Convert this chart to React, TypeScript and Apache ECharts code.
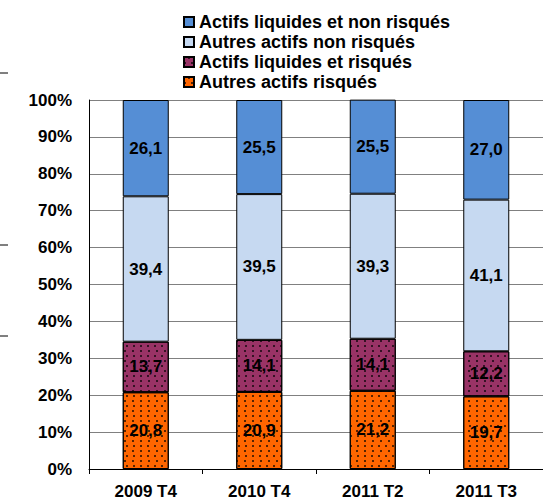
import React, { useEffect, useRef } from "react";
import * as echarts from "echarts";

const categories = ["2009 T4", "2010 T4", "2011 T2", "2011 T3"];
const autresRisques = [20.8, 20.9, 21.2, 19.7];
const liquidesRisques = [13.7, 14.1, 14.1, 12.2];
const autresNonRisques = [39.4, 39.5, 39.3, 41.1];
const liquidesNonRisques = [26.1, 25.5, 25.5, 27.0];
const yTicks = [0, 10, 20, 30, 40, 50, 60, 70, 80, 90, 100];

const names = [
  "Actifs liquides et non risqués",
  "Autres actifs non risqués",
  "Actifs liquides et risqués",
  "Autres actifs risqués",
];

export default function App() {
  const ref = useRef<HTMLDivElement>(null);
  useEffect(() => {
    const chart = echarts.init(ref.current!, null, { renderer: "svg" });
    const font = { fontFamily: "Liberation Sans, Arial, sans-serif", fontWeight: "bold" as const, fontSize: 17, color: "#000" };
    const dots = {
      symbol: "rect",
      symbolSize: 1,
      color: "rgba(0,0,0,0.65)",
      dashArrayX: [[1.5, 5], [0, 3.25, 1.5, 1.75]],
      dashArrayY: [1.5, 2.5],
      rotation: 0,
    };
    const mk = (name: string, data: number[], color: string, decal?: any) => ({
      name,
      type: "bar",
      stack: "total",
      data,
      barWidth: 46,
      itemStyle: { color, borderColor: "#000", borderWidth: 1, decal },
      label: {
        show: true,
        position: "inside",
        ...font,
        formatter: (p: any) => p.value.toFixed(1).replace(".", ","),
      },
    });
    chart.setOption({
      animation: false,
      legend: {
        left: 183,
        top: 12,
        padding: 0,
        orient: "vertical",
        itemWidth: 10,
        itemHeight: 10,
        itemGap: 0,
        data: names,
        textStyle: { ...font, fontSize: 18, lineHeight: 20 },
        icon: "rect",
        selectedMode: false,
      },
      grid: { left: 89, top: 100, width: 468, height: 369 },
      xAxis: {
        type: "category",
        data: categories,
        axisLine: { lineStyle: { color: "#000" } },
        axisTick: { show: true, length: 5, lineStyle: { color: "#000" } },
        axisLabel: { ...font, margin: 14 },
      },
      yAxis: {
        type: "value",
        min: 0,
        max: 100,
        interval: 10,
        axisLine: { show: true, lineStyle: { color: "#000" } },
        axisTick: { show: false },
        splitLine: { lineStyle: { color: "#808080", width: 1 } },
        axisLabel: { ...font, margin: 17, formatter: (v: number) => (yTicks.includes(v) ? v + "%" : "") },
      },
      graphic: [
        { type: "line", shape: { x1: 0, y1: 73, x2: 8, y2: 73 }, style: { stroke: "#000", lineWidth: 1 } },
        { type: "line", shape: { x1: 0, y1: 245, x2: 8, y2: 245 }, style: { stroke: "#000", lineWidth: 1 } },
        { type: "line", shape: { x1: 0, y1: 336, x2: 8, y2: 336 }, style: { stroke: "#000", lineWidth: 1 } },
      ],
      series: [
        mk(names[3], autresRisques, "#FF6600", dots),
        mk(names[2], liquidesRisques, "#993366", dots),
        mk(names[1], autresNonRisques, "#C6D9F1"),
        mk(names[0], liquidesNonRisques, "#558ED5"),
      ],
    });
    return () => chart.dispose();
  }, []);
  return <div ref={ref} style={{ width: 543, height: 501, position: "absolute", left: 0, top: 0 }} />;
}
